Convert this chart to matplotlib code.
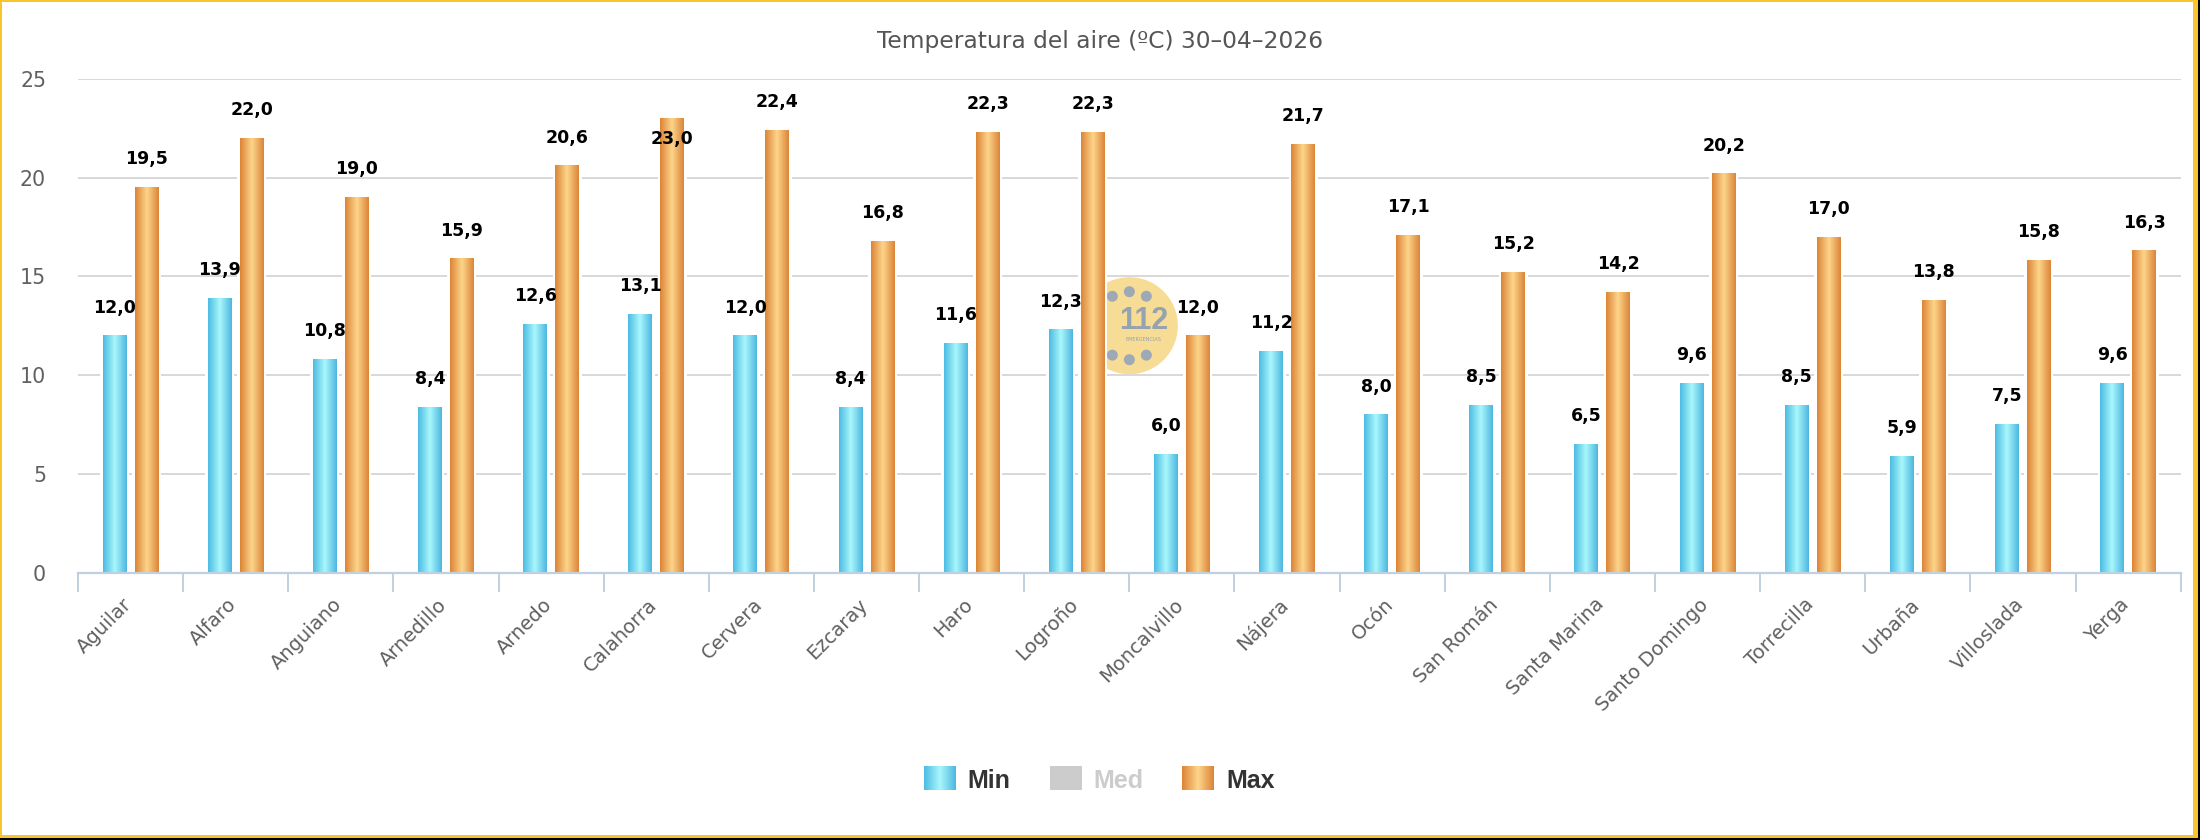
import numpy as np
import matplotlib
matplotlib.use("Agg")
import matplotlib.pyplot as plt
from matplotlib.patches import Rectangle, Circle
from matplotlib.transforms import ScaledTranslation
from matplotlib.colors import to_rgb

# ---------------- data ----------------
stations = ["Aguilar", "Alfaro", "Anguiano", "Arnedillo", "Arnedo", "Calahorra",
            "Cervera", "Ezcaray", "Haro", "Logroño", "Moncalvillo", "Nájera",
            "Ocón", "San Román", "Santa Marina", "Santo Domingo", "Torrecilla",
            "Urbaña", "Villoslada", "Yerga"]
t_min = [12.0, 13.9, 10.8, 8.4, 12.6, 13.1, 12.0, 8.4, 11.6, 12.3,
         6.0, 11.2, 8.0, 8.5, 6.5, 9.6, 8.5, 5.9, 7.5, 9.6]
t_max = [19.5, 22.0, 19.0, 15.9, 20.6, 23.0, 22.4, 16.8, 22.3, 22.3,
         12.0, 21.7, 17.1, 15.2, 14.2, 20.2, 17.0, 13.8, 15.8, 16.3]
y_ticks = [0, 5, 10, 15, 20, 25]
title = "Temperatura del aire (ºC) 30–04–2026"
legend_labels = ["Min", "Med", "Max"]

# ---------------- style ----------------
plt.rcParams["font.family"] = ["DejaVu Sans"]
W, H, DPI = 2200, 840, 100
fig = plt.figure(figsize=(W / DPI, H / DPI), dpi=DPI, facecolor="white")

def fx(x):
    return x / W

def fy(y):
    return 1 - y / H

# plot area in pixels
PL, PR, PT, PB = 78, 2180.7, 78.7, 572.7
ax = fig.add_axes([fx(PL), fy(PB), (PR - PL) / W, (PB - PT) / H])
ax.set_facecolor("none")

n = len(stations)
ppu_x = (PR - PL) / n
ppu_y = (PB - PT) / (y_ticks[-1] - y_ticks[0])

MIN_COLS = ("#4CBCE3", "#A9F7FC", "#4DB7E0")
MAX_COLS = ("#DC8436", "#FDD58B", "#DC8538")

def grad_img(cols, npts=64):
    t = np.linspace(0, 1, npts)
    c0, c1, c2 = (np.array(to_rgb(c)) for c in cols)
    img = np.empty((1, npts, 3))
    for i, tt in enumerate(t):
        if tt <= 0.5:
            f = tt / 0.5
            img[0, i] = c0 * (1 - f) + c1 * f
        else:
            f = (tt - 0.5) / 0.5
            img[0, i] = c1 * (1 - f) + c2 * f
    return img

IMG_MIN = grad_img(MIN_COLS)
IMG_MAX = grad_img(MAX_COLS)

bar_w = 24 / ppu_x
offs = 16 / ppu_x
white_pad = 2.5 / ppu_x

def draw_bars(values, sign, img):
    for i, v in enumerate(values):
        xc = i + sign * offs
        x0, x1 = xc - bar_w / 2, xc + bar_w / 2
        ax.add_patch(Rectangle((x0 - white_pad, 0), bar_w + 2 * white_pad,
                               v + 2 / ppu_y, facecolor="white",
                               edgecolor="none", zorder=2.5))
        ax.imshow(img, extent=[x0, x1, 0, v], aspect="auto",
                  interpolation="bilinear", zorder=3)
        # data label
        fits = v + 42 / ppu_y <= y_ticks[-1]
        dy = 28 if fits else -21
        ax.annotate(f"{v:.1f}".replace(".", ","), xy=(xc, v),
                    xytext=(0, dy * 72 / DPI), textcoords="offset points",
                    ha="center", va="center", fontsize=12.5,
                    fontweight="bold", color="black", zorder=6,
                    annotation_clip=False)

draw_bars(t_min, -1, IMG_MIN)
draw_bars(t_max, +1, IMG_MAX)

ax.set_xlim(-0.5, n - 0.5)
ax.set_ylim(y_ticks[0], y_ticks[-1])

# watermark logo (between Logroño and Moncalvillo)
logo_tr = fig.dpi_scale_trans + ScaledTranslation(9.5, 12.5, ax.transData)
ax.add_patch(Circle((0, 0), 0.485, facecolor="#F7DC95", edgecolor="none",
                    transform=logo_tr, zorder=1.5))
for ang in (60, 90, 120, 180, 240, 270, 300):
    a = np.deg2rad(ang)
    ax.add_patch(Circle((0.34 * np.cos(a), 0.34 * np.sin(a)), 0.055,
                        facecolor="#9DA9B5", edgecolor="none",
                        transform=logo_tr, zorder=1.6))
ax.text(0.14, 0.05, "112", transform=logo_tr, ha="center", va="center",
        fontsize=22, fontweight="bold", color="#95A2AF",
        family=["Liberation Sans", "DejaVu Sans"], zorder=1.7)
ax.text(0.14, -0.135, "EMERGENCIAS", transform=logo_tr, ha="center",
        va="center", fontsize=3.5, color="#95A2AF", zorder=1.7)

# grid / axes
ax.set_yticks(y_ticks)
ax.set_yticklabels([str(t) for t in y_ticks])
ax.yaxis.grid(True, color="#D8D8D8", lw=1.4)
ax.set_axisbelow(True)
for s in ("top", "right", "left"):
    ax.spines[s].set_visible(False)
ax.spines["bottom"].set_color("#C0D0E0")
ax.spines["bottom"].set_linewidth(1.6)
ax.spines["bottom"].set_zorder(4)
ax.tick_params(axis="y", length=0, pad=23, labelsize=14.8, labelcolor="#606060")

ax.set_xticks(range(n))
ax.set_xticks(np.arange(-0.5, n, 1.0), minor=True)
ax.set_xticklabels(stations, rotation=45, ha="right", va="top",
                   fontsize=14, color="#606060")
ax.tick_params(axis="x", which="major", length=0, pad=16)
ax.tick_params(axis="x", which="minor", length=19 * 72 / DPI, width=1.4,
               color="#C0D0E0", direction="out")
shift = ScaledTranslation(5 / DPI, 0, fig.dpi_scale_trans)
for lab in ax.get_xticklabels():
    lab.set_transform(lab.get_transform() + shift)

# title
fig.text(0.5, fy(48.3), title, ha="center", va="baseline",
         fontsize=16.8, color="#555555")

# legend (manual)
leg_items = [
    (legend_labels[0], IMG_MIN, 924, 967, "#333333"),
    (legend_labels[1], None, 1050, 1093, "#CCCCCC"),
    (legend_labels[2], IMG_MAX, 1182, 1226, "#333333"),
]
for lab, img, sx, tx, tc in leg_items:
    sax = fig.add_axes([fx(sx), fy(790), 32 / W, 24 / H])
    sax.set_axis_off()
    if img is None:
        sax.add_patch(Rectangle((0, 0), 1, 1, facecolor="#CCCCCC",
                                edgecolor="none", transform=sax.transAxes))
    else:
        sax.imshow(img, extent=[0, 1, 0, 1], aspect="auto",
                   interpolation="bilinear")
    fig.text(fx(tx), fy(788), lab, ha="left", va="baseline", fontsize=18,
             fontweight="bold", color=tc,
             family=["Liberation Sans", "DejaVu Sans"])

# frame
def frect(x0, y0, x1, y1, color):
    fig.patches.append(Rectangle((fx(x0), fy(y1)), (x1 - x0) / W,
                                 (y1 - y0) / H, transform=fig.transFigure,
                                 facecolor=color, edgecolor="none",
                                 zorder=10))

YEL = "#F8C52C"
frect(0, 0, 2198, 2, YEL)
frect(0, 0, 2, 838, YEL)
frect(2193, 0, 2198, 838, YEL)
frect(0, 835, 2198, 838, YEL)
frect(0, 838, 2200, 840, "black")
frect(2198, 0, 2200, 840, "black")

fig.savefig("out.png", dpi=DPI, facecolor="white")
